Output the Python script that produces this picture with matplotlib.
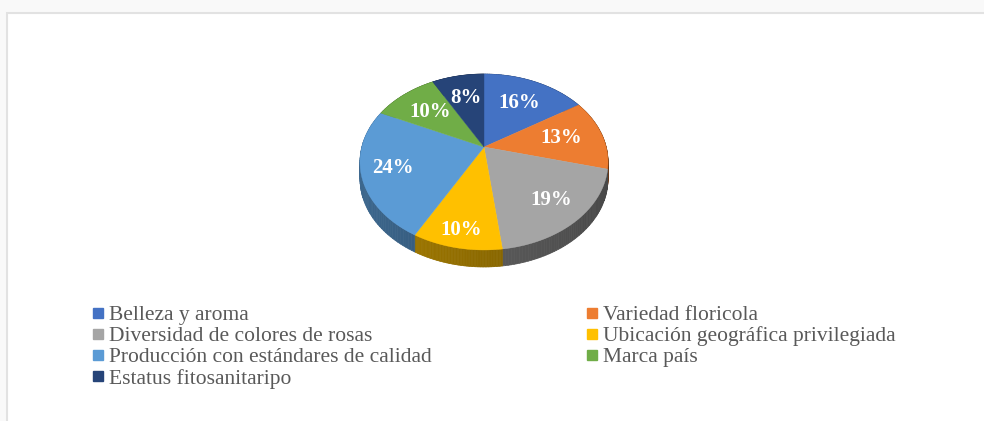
import numpy as np
import matplotlib
matplotlib.use("Agg")
import matplotlib.pyplot as plt
from matplotlib.collections import PolyCollection
from matplotlib.lines import Line2D
from matplotlib.patches import Rectangle
from matplotlib.colors import to_rgb

plt.rcParams["font.family"] = "serif"
plt.rcParams["font.serif"] = ["Liberation Serif", "Times New Roman", "DejaVu Serif"]

categories = [
    "Belleza y aroma",
    "Variedad floricola",
    "Diversidad de colores de rosas",
    "Ubicación geográfica privilegiada",
    "Producción con estándares de calidad",
    "Marca país",
    "Estatus fitosanitaripo",
]
shares = [16, 13, 19, 10, 24, 10, 8]

colors = ["#4472C4", "#ED7D31", "#A5A5A5", "#FFC000", "#5B9BD5", "#70AD47", "#264478"]
label_radius = [0.65, 0.65, 0.75, 0.85, 0.75, 0.65, 0.65]

# pie geometry, in pixel units of the full-figure axes
CX, CY = 484, 147
R = 122.2
TILT = 0.1705      # perspective strength
SQUASH = 85.4      # vertical radius before perspective
DEPTH = 17


def project(theta, r=1.0):
    u = r * np.sin(theta)
    v = r * np.cos(theta)
    d = 1 + TILT * v
    return CX + R * u / d, CY - SQUASH * v / d


def shade(color, factor):
    return tuple(c * factor for c in to_rgb(color))


fig = plt.figure(figsize=(9.84, 4.21), dpi=100, facecolor="#f9f9f9")
ax = fig.add_axes([0, 0, 1, 1])
ax.set_xlim(0, 984)
ax.set_ylim(421, 0)
ax.axis("off")

ax.add_patch(Rectangle((7, 13), 1000, 450, facecolor="white", edgecolor="#e2e2e2", lw=1.5, zorder=0))

fracs = np.array(shares, dtype=float) / np.sum(shares)
edges = np.concatenate([[0], np.cumsum(fracs)]) * 2 * np.pi

# side of the pie
quads, quad_colors = [], []
for i, color in enumerate(colors):
    th = np.linspace(edges[i], edges[i + 1], 60)
    x, y = project(th)
    for j in range(len(th) - 1):
        quads.append([(x[j], y[j]), (x[j + 1], y[j + 1]),
                      (x[j + 1], y[j + 1] + DEPTH), (x[j], y[j] + DEPTH)])
        u = np.sin(0.5 * (th[j] + th[j + 1]))
        quad_colors.append(shade(color, 0.55 - 0.12 * u))
ax.add_collection(PolyCollection(quads, facecolors=quad_colors, edgecolors=quad_colors, lw=0.5, zorder=1))

# top faces
for i, color in enumerate(colors):
    th = np.linspace(edges[i], edges[i + 1], 80)
    x, y = project(th)
    ax.fill(np.r_[CX, x], np.r_[CY, y], color=color, lw=0.3, ec=color, zorder=2)

for i, val in enumerate(shares):
    mid = 0.5 * (edges[i] + edges[i + 1])
    x, y = project(mid, label_radius[i])
    ax.text(x, y, f"{val}%", color="white", fontsize=15, fontweight="bold",
            ha="center", va="center", zorder=3)

order = [0, 2, 4, 6, 1, 3, 5]
handles = [Line2D([], [], marker="s", ls="none", color=colors[k], markersize=7) for k in order]
ax.legend(handles, [categories[k] for k in order], ncol=2, loc="upper left",
          bbox_to_anchor=(92, 305), bbox_transform=ax.transData, frameon=False,
          prop={"size": 15.5}, labelcolor="#595959",
          handlelength=0.55, handletextpad=0.25, labelspacing=0.05, columnspacing=7.15,
          borderpad=0, borderaxespad=0)

fig.savefig("out.png", dpi=100, facecolor=fig.get_facecolor())
